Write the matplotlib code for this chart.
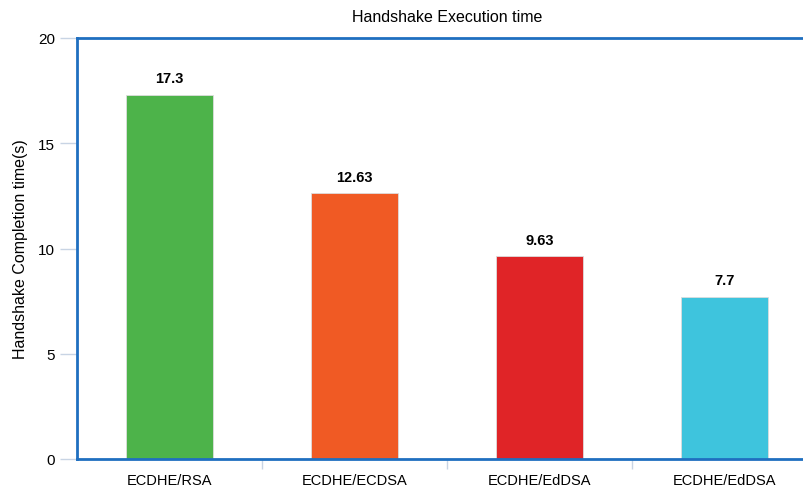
import numpy as np
import matplotlib.pyplot as plt

plt.rcParams["font.family"] = ["Liberation Sans", "DejaVu Sans"]

# data ---------------------------------------------------------------------------------

categories = ["ECDHE/RSA", "ECDHE/ECDSA", "ECDHE/EdDSA", "ECDHE/EdDSA"]
times = [17.3, 12.63, 9.63, 7.7]
value_labels = ["17.3", "12.63", "9.63", "7.7"]
colors = ["#4db34a", "#f05a24", "#e02427", "#3ec4dd"]

# plot ---------------------------------------------------------------------------------

fig = plt.figure(figsize=(8.04, 4.89), dpi=100)
ax = fig.add_axes([77 / 804, 29 / 489, 740 / 804, 421 / 489])

x = np.arange(len(categories))
ax.bar(x, times, width=0.47, color=colors, edgecolor="#dddddd", linewidth=0.6, zorder=2)

for xi, v, lab in zip(x, times, value_labels):
    ax.text(xi, v + 0.45, lab, ha="center", va="bottom", fontsize=10.5, fontweight="bold")

ax.set_xlim(-0.5, len(categories) - 0.5)
ax.set_ylim(0, 20)
ax.set_yticks([0, 5, 10, 15, 20])
ax.set_xticks(x)
ax.set_xticklabels(categories, fontsize=10.5)
ax.set_xticks(x[:-1] + 0.5, minor=True)
ax.tick_params(axis="x", which="major", length=0, pad=10)
ax.tick_params(axis="x", which="minor", length=7, color="#c8d4e4", width=1)
ax.tick_params(axis="y", length=12, color="#c8d4e4", width=1, labelsize=11, pad=4)

for side in ["left", "top", "bottom"]:
    ax.spines[side].set_color("#1f6fc0")
    ax.spines[side].set_linewidth(2)
ax.spines["right"].set_visible(False)

ax.set_ylabel("Handshake Completion time(s)", fontsize=11.5, labelpad=7)
ax.set_title("Handshake Execution time", fontsize=11.5, pad=12)

fig.savefig("out.png", dpi=100)
